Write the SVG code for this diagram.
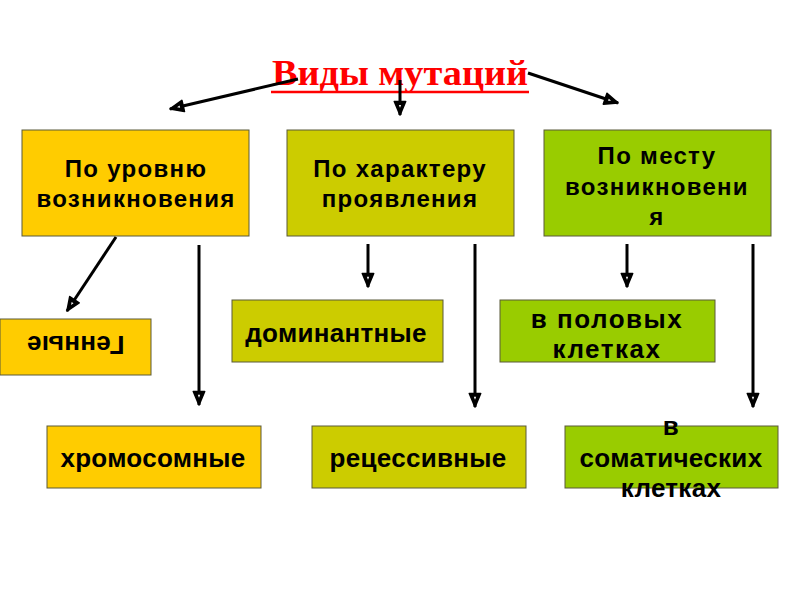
<svg xmlns="http://www.w3.org/2000/svg" width="800" height="600" viewBox="0 0 800 600">
<style>
.box{stroke:#5a5a3a;stroke-width:1}
.y{fill:#FFCC00}.o{fill:#CCCC00}.g{fill:#99CC00}
.t{font-family:"Liberation Sans",Arial,sans-serif;font-weight:bold;font-size:24px;letter-spacing:1.3px;fill:#000;text-anchor:middle}
.b{font-size:26px;letter-spacing:0.3px}
.c{stroke:#000;stroke-width:3;fill:none;marker-end:url(#ah)}
</style>
<defs>
<marker id="ah" viewBox="0 0 14 12" refX="13" refY="6" markerWidth="5.3" markerHeight="4.5" orient="auto" markerUnits="strokeWidth">
<path d="M1,1 L13,6 L1,11 Z" fill="#000" stroke="#000" stroke-width="1.5" stroke-linejoin="round"/>
<path d="M4,5 L6.5,6 L4,7 Z" fill="#fff"/>
</marker>
</defs>
<rect width="800" height="600" fill="#fff"/>
<g id="title">
<text x="400" y="85" text-anchor="middle" font-family="Liberation Serif,'Times New Roman',serif" font-weight="bold" font-size="36" textLength="256" lengthAdjust="spacingAndGlyphs" fill="#FF0000">Виды мутаций</text>
<line x1="271" y1="92" x2="529" y2="92" stroke="#FF0000" stroke-width="2.5"/>
</g>
<g id="n1"><rect class="box y" x="22" y="130" width="227" height="106"/><text class="t" x="136" y="177">По уровню</text><text class="t" x="136" y="207">возникновения</text></g>
<g id="n2"><rect class="box o" x="287" y="130" width="227" height="106"/><text class="t" x="400" y="177">По характеру</text><text class="t" x="400" y="207">проявления</text></g>
<g id="n3"><rect class="box g" x="544" y="130" width="227" height="106"/><text class="t" x="657" y="164">По месту</text><text class="t" x="657" y="195">возникновени</text><text class="t" x="657" y="225">я</text></g>
<g id="n4"><rect class="box y" x="0" y="319" width="151" height="56"/><text class="t b" x="75.5" y="362" transform="rotate(180 75.5 349)">Генные</text></g>
<g id="n5"><rect class="box o" x="232" y="300" width="211" height="62"/><text class="t b" x="336" y="342">доминантные</text></g>
<g id="n6"><rect class="box g" x="500" y="300" width="215" height="62"/><text class="t b" x="607" y="328" style="letter-spacing:1.5px">в половых</text><text class="t b" x="607" y="358" style="letter-spacing:1.5px">клетках</text></g>
<g id="n7"><rect class="box y" x="47" y="426" width="214" height="62"/><text class="t b" x="153" y="467">хромосомные</text></g>
<g id="n8"><rect class="box o" x="312" y="426" width="214" height="62"/><text class="t b" x="418" y="467">рецессивные</text></g>
<g id="n9"><rect class="box g" x="565" y="426" width="213" height="62"/><text class="t b" x="671" y="435">в</text><text class="t b" x="671" y="467">соматических</text><text class="t b" x="671" y="497">клетках</text></g>
<g id="connectors">
<line class="c" x1="298" y1="79" x2="170" y2="109"/>
<line class="c" x1="400" y1="80" x2="400" y2="115"/>
<line class="c" x1="528" y1="73" x2="618" y2="103"/>
<line class="c" x1="116" y1="237" x2="67" y2="311"/>
<line class="c" x1="199" y1="245" x2="199" y2="405"/>
<line class="c" x1="368" y1="244" x2="368" y2="287"/>
<line class="c" x1="475" y1="244" x2="475" y2="407"/>
<line class="c" x1="627" y1="244" x2="627" y2="287"/>
<line class="c" x1="753" y1="244" x2="753" y2="407"/>
</g>
</svg>
